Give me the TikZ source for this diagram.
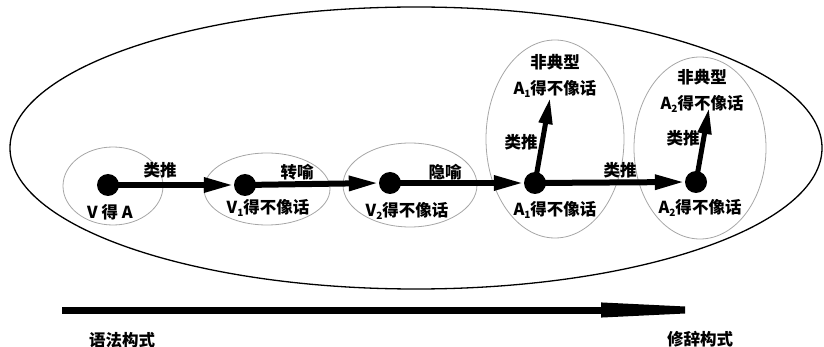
\documentclass[tikz,border=0pt]{standalone}
\usepackage{fontspec}
\setmainfont{Noto Sans CJK SC}
\usetikzlibrary{arrows.meta}
\newcommand\mysub[1]{\raisebox{-0.3ex}{\fontsize{10}{10}\selectfont #1}}
\begin{document}
\begin{tikzpicture}[x=1pt,y=-1pt,
  dot/.style={circle,fill=black,inner sep=0pt,minimum size=22pt},
  grp/.style={draw=black!35,line width=0.8pt},
  lbl/.style={font=\fontsize{16.5}{18}\selectfont\bfseries,inner sep=0pt},
  harrow/.style={line width=6pt,-{Triangle[length=30pt,width=14pt]}},
  uarrow/.style={line width=5pt,-{Triangle[length=26pt,width=13pt]}},
  barrow/.style={line width=7pt,-{Triangle[length=182pt,width=13pt]}}]
\useasboundingbox (0,0) rectangle (824,347);
% big ellipse
\draw[line width=1.3pt] (416,148) ellipse [x radius=406, y radius=141];
% group ellipses
\draw[grp] (113,186) ellipse [x radius=50, y radius=39];
\draw[grp] (267,189) ellipse [x radius=63, y radius=36];
\draw[grp] (410,185) ellipse [x radius=67, y radius=42];
\draw[grp] (555,139) ellipse [x radius=69, y radius=99];
\draw[grp] (700,148) ellipse [x radius=66, y radius=91];
% dots
\node[dot] (d1) at (108,185) {};
\node[dot] (d2) at (245,185) {};
\node[dot] (d3) at (390,183) {};
\node[dot] (d4) at (535,183) {};
\node[dot] (d5) at (696,182) {};
\coordinate (t4) at (550,98);
\coordinate (t5) at (709,108);
% arrows
\draw[harrow] (d1.center) -- (d2.west);
\draw[harrow] (d2.center) -- (d3.west);
\draw[harrow] (d3.center) -- (d4.west);
\draw[harrow] (d4.center) -- (d5.west);
\draw[uarrow] (d4.center) -- (t4);
\draw[uarrow] (d5.center) -- (t5);
% labels
\node[lbl] (lV) at (110,212) {V 得 A};
\node[lbl] (l1) at (160,170) {类推};
\node[lbl] (l2) at (297,172) {转喻};
\node[lbl] (lV1) at (268,208) {V\mysub{1}得不像话};
\node[lbl] (lV2) at (407,211) {V\mysub{2}得不像话};
\node[lbl] (l3) at (445,172) {隐喻};
\node[lbl] (n4) at (555,62) {非典型};
\node[lbl] (u4) at (555,89) {A\mysub{1}得不像话};
\node[lbl] (l4) at (521,142) {类推};
\node[lbl] (l45) at (620,170) {类推};
\node[lbl] (b4) at (555,210) {A\mysub{1}得不像话};
\node[lbl] (n5) at (702,77) {非典型};
\node[lbl] (u5) at (702,104) {A\mysub{2}得不像话};
\node[lbl] (l5) at (683,138) {类推};
\node[lbl] (b5) at (700,208) {A\mysub{2}得不像话};
% bottom arrow
\coordinate (b1) at (62,310);
\coordinate (b2) at (783,310);
\draw[barrow] (b1) -- (b2);
\node[lbl] (g1) at (122,340) {语法构式};
\node[lbl] (g2) at (700,339) {修辞构式};
\end{tikzpicture}
\end{document}
